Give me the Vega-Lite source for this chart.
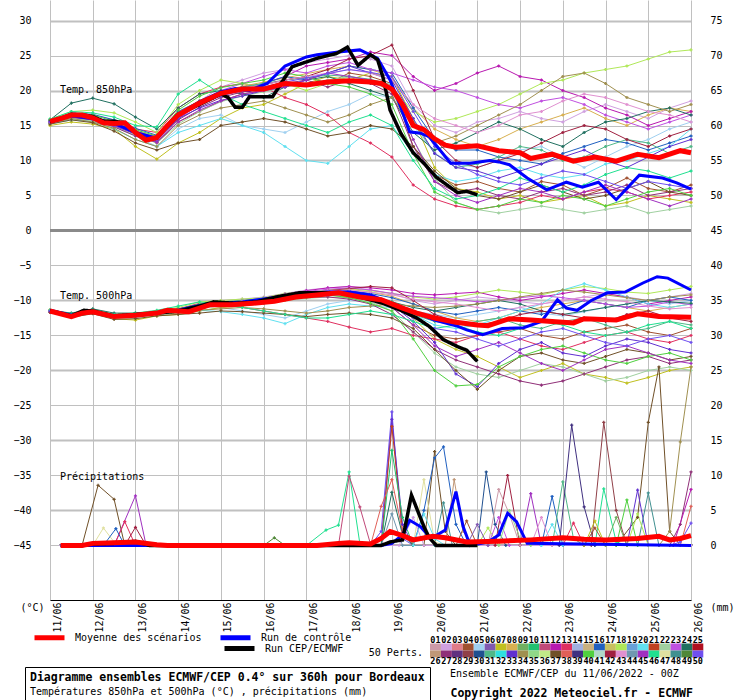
{
"$schema": "https://vega.github.io/schema/vega-lite/v6.json",
"width": 641, "height": 600,
"autosize": {"type": "none"},
"padding": {"left": 50, "top": 0, "right": 49, "bottom": 100},
"background": "white",
"config": {
 "view": {"stroke": null},
 "font": "DejaVu Sans Mono",
 "axis": {"labelFont": "DejaVu Sans Mono", "labelFontSize": 10, "labelColor": "black", "titleFont": "DejaVu Sans Mono", "titleFontSize": 10, "titleFontWeight": "normal", "titleColor": "black", "labelOverlap": false},
 "legend": {"labelFont": "DejaVu Sans Mono", "titleFont": "DejaVu Sans Mono", "labelColor": "black", "titleColor": "black", "padding": 0, "labelFontSize": 10}
},
"datasets": {
"lg": [{"t":"01","u":"26"},{"t":"02","u":"27"},{"t":"03","u":"28"},{"t":"04","u":"29"},{"t":"05","u":"30"},{"t":"06","u":"31"},{"t":"07","u":"32"},{"t":"08","u":"33"},{"t":"09","u":"34"},{"t":"10","u":"35"},{"t":"11","u":"36"},{"t":"12","u":"37"},{"t":"13","u":"38"},{"t":"14","u":"39"},{"t":"15","u":"40"},{"t":"16","u":"41"},{"t":"17","u":"42"},{"t":"18","u":"43"},{"t":"19","u":"44"},{"t":"20","u":"45"},{"t":"21","u":"46"},{"t":"22","u":"47"},{"t":"23","u":"48"},{"t":"24","u":"49"},{"t":"25","u":"50"}],
"ens": [
{"m":"02","h":0,"a":15.8,"b":-11.4},{"m":"02","h":12,"a":16.8,"b":-12},{"m":"02","h":24,"a":16.5,"b":-11.5},{"m":"02","h":36,"a":15.8,"b":-12},{"m":"02","h":48,"a":14.5,"b":-11.9},{"m":"02","h":60,"a":13,"b":-11.6},{"m":"02","h":72,"a":16,"b":-11.2},{"m":"02","h":84,"a":18.5,"b":-10.5},{"m":"02","h":96,"a":20.5,"b":-10},{"m":"02","h":108,"a":21.5,"b":-9.8},{"m":"02","h":120,"a":22.5,"b":-9.5},{"m":"02","h":132,"a":23,"b":-9},{"m":"02","h":144,"a":24,"b":-8.5},{"m":"02","h":156,"a":24.5,"b":-8.2},{"m":"02","h":168,"a":25,"b":-8},{"m":"02","h":180,"a":24.5,"b":-8.5},{"m":"02","h":192,"a":23.5,"b":-9},{"m":"02","h":204,"a":18,"b":-10},{"m":"02","h":216,"a":15,"b":-10.5},{"m":"02","h":228,"a":14,"b":-10},{"m":"02","h":240,"a":15.5,"b":-9.5},{"m":"02","h":252,"a":16,"b":-9.8},{"m":"02","h":264,"a":17,"b":-10.2},{"m":"02","h":276,"a":16,"b":-10.5},{"m":"02","h":288,"a":15.5,"b":-10},{"m":"02","h":300,"a":17,"b":-9.5},{"m":"02","h":312,"a":18,"b":-9},{"m":"02","h":324,"a":17,"b":-9.5},{"m":"02","h":336,"a":16,"b":-10},{"m":"02","h":348,"a":17.5,"b":-9.5},{"m":"02","h":360,"a":18.5,"b":-9},
{"m":"04","h":0,"a":15.5,"b":-11.6},{"m":"04","h":12,"a":16.2,"b":-12.3},{"m":"04","h":24,"a":16,"b":-11.7},{"m":"04","h":36,"a":15,"b":-12.4},{"m":"04","h":48,"a":13.8,"b":-12.2},{"m":"04","h":60,"a":12.5,"b":-11.8},{"m":"04","h":72,"a":15.5,"b":-11.4},{"m":"04","h":84,"a":17,"b":-10.8},{"m":"04","h":96,"a":18.5,"b":-10.5},{"m":"04","h":108,"a":19.5,"b":-10.4},{"m":"04","h":120,"a":20,"b":-10},{"m":"04","h":132,"a":21.5,"b":-9.5},{"m":"04","h":144,"a":22,"b":-9.2},{"m":"04","h":156,"a":21,"b":-9},{"m":"04","h":168,"a":22.5,"b":-9.2},{"m":"04","h":180,"a":22,"b":-9.8},{"m":"04","h":192,"a":21,"b":-11},{"m":"04","h":204,"a":12,"b":-13.5},{"m":"04","h":216,"a":8,"b":-15},{"m":"04","h":228,"a":6.5,"b":-15.5},{"m":"04","h":240,"a":7,"b":-15},{"m":"04","h":252,"a":6,"b":-14.5},{"m":"04","h":264,"a":5.5,"b":-14},{"m":"04","h":276,"a":7,"b":-15},{"m":"04","h":288,"a":6.5,"b":-15.5},{"m":"04","h":300,"a":5,"b":-14.5},{"m":"04","h":312,"a":6,"b":-14},{"m":"04","h":324,"a":7.5,"b":-13.5},{"m":"04","h":336,"a":6,"b":-14.5},{"m":"04","h":348,"a":5.5,"b":-15},{"m":"04","h":360,"a":6.5,"b":-14},
{"m":"05","h":0,"a":15.2,"b":-11.4},{"m":"05","h":12,"a":15.8,"b":-12.1},{"m":"05","h":24,"a":15.5,"b":-11.6},{"m":"05","h":36,"a":14.8,"b":-12.2},{"m":"05","h":48,"a":13.5,"b":-12},{"m":"05","h":60,"a":12,"b":-11.7},{"m":"05","h":72,"a":14.5,"b":-11.8},{"m":"05","h":84,"a":16,"b":-11.5},{"m":"05","h":96,"a":16.5,"b":-11},{"m":"05","h":108,"a":15,"b":-11.5},{"m":"05","h":120,"a":14.5,"b":-12},{"m":"05","h":132,"a":14,"b":-12.5},{"m":"05","h":144,"a":15.5,"b":-11.5},{"m":"05","h":156,"a":17,"b":-10.5},{"m":"05","h":168,"a":18,"b":-10},{"m":"05","h":180,"a":19.5,"b":-10.2},{"m":"05","h":192,"a":19,"b":-10.5},{"m":"05","h":204,"a":15,"b":-11.5},{"m":"05","h":216,"a":11,"b":-12},{"m":"05","h":228,"a":9.5,"b":-12.5},{"m":"05","h":240,"a":9,"b":-12},{"m":"05","h":252,"a":10,"b":-11.5},{"m":"05","h":264,"a":11.5,"b":-11},{"m":"05","h":276,"a":12,"b":-11.8},{"m":"05","h":288,"a":10.5,"b":-12.2},{"m":"05","h":300,"a":9,"b":-11.6},{"m":"05","h":312,"a":10.5,"b":-11},{"m":"05","h":324,"a":12,"b":-10.5},{"m":"05","h":336,"a":13,"b":-10},{"m":"05","h":348,"a":14.5,"b":-10.5},{"m":"05","h":360,"a":15.5,"b":-10},
{"m":"07","h":0,"a":15,"b":-11.5},{"m":"07","h":12,"a":15.5,"b":-12.2},{"m":"07","h":24,"a":15.2,"b":-11.7},{"m":"07","h":36,"a":14.5,"b":-12.6},{"m":"07","h":48,"a":12,"b":-12.8},{"m":"07","h":60,"a":10.2,"b":-12.2},{"m":"07","h":72,"a":12.5,"b":-12},{"m":"07","h":84,"a":14,"b":-11.5},{"m":"07","h":96,"a":16,"b":-11},{"m":"07","h":108,"a":17.5,"b":-10.8},{"m":"07","h":120,"a":18,"b":-10.4},{"m":"07","h":132,"a":19.5,"b":-10},{"m":"07","h":144,"a":21,"b":-9.5},{"m":"07","h":156,"a":22,"b":-9.2},{"m":"07","h":168,"a":21.5,"b":-9.5},{"m":"07","h":180,"a":22.5,"b":-10},{"m":"07","h":192,"a":22,"b":-10.5},{"m":"07","h":204,"a":16,"b":-12.5},{"m":"07","h":216,"a":9,"b":-15.5},{"m":"07","h":228,"a":6,"b":-17},{"m":"07","h":240,"a":5.5,"b":-18},{"m":"07","h":252,"a":4.5,"b":-19.5},{"m":"07","h":264,"a":5,"b":-21},{"m":"07","h":276,"a":4,"b":-20},{"m":"07","h":288,"a":4.5,"b":-19},{"m":"07","h":300,"a":5,"b":-20.5},{"m":"07","h":312,"a":3.5,"b":-21},{"m":"07","h":324,"a":4,"b":-21.8},{"m":"07","h":336,"a":5,"b":-21},{"m":"07","h":348,"a":4.5,"b":-20},{"m":"07","h":360,"a":4,"b":-19.5},
{"m":"08","h":0,"a":15.6,"b":-11.5},{"m":"08","h":12,"a":16.6,"b":-12.2},{"m":"08","h":24,"a":16.2,"b":-11.6},{"m":"08","h":36,"a":15.4,"b":-12.2},{"m":"08","h":48,"a":14.2,"b":-12},{"m":"08","h":60,"a":13.4,"b":-11.7},{"m":"08","h":72,"a":16.8,"b":-11.3},{"m":"08","h":84,"a":18.6,"b":-10.6},{"m":"08","h":96,"a":19.8,"b":-10.3},{"m":"08","h":108,"a":20.6,"b":-10.1},{"m":"08","h":120,"a":21.2,"b":-9.8},{"m":"08","h":132,"a":21.8,"b":-9.3},{"m":"08","h":144,"a":22.4,"b":-8.9},{"m":"08","h":156,"a":23,"b":-8.6},{"m":"08","h":168,"a":23.5,"b":-8.4},{"m":"08","h":180,"a":23,"b":-8.8},{"m":"08","h":192,"a":22,"b":-9.4},{"m":"08","h":204,"a":17.5,"b":-10.5},{"m":"08","h":216,"a":14.5,"b":-11.5},{"m":"08","h":228,"a":13,"b":-12.5},{"m":"08","h":240,"a":12,"b":-13},{"m":"08","h":252,"a":13,"b":-12.5},{"m":"08","h":264,"a":14.5,"b":-11.5},{"m":"08","h":276,"a":15.5,"b":-11},{"m":"08","h":288,"a":16.5,"b":-10.5},{"m":"08","h":300,"a":17.5,"b":-10},{"m":"08","h":312,"a":16,"b":-10.5},{"m":"08","h":324,"a":15,"b":-11},{"m":"08","h":336,"a":16.5,"b":-11.5},{"m":"08","h":348,"a":17.5,"b":-11},{"m":"08","h":360,"a":17,"b":-10.5},
{"m":"12","h":0,"a":15.6,"b":-11.5},{"m":"12","h":12,"a":16.5,"b":-12.2},{"m":"12","h":24,"a":16.3,"b":-11.6},{"m":"12","h":36,"a":15.4,"b":-12.3},{"m":"12","h":48,"a":14.2,"b":-12.1},{"m":"12","h":60,"a":13.2,"b":-11.8},{"m":"12","h":72,"a":16,"b":-11.5},{"m":"12","h":84,"a":18,"b":-10.8},{"m":"12","h":96,"a":19.5,"b":-10.5},{"m":"12","h":108,"a":20,"b":-10.2},{"m":"12","h":120,"a":21,"b":-9.8},{"m":"12","h":132,"a":22,"b":-9.2},{"m":"12","h":144,"a":23.5,"b":-8.6},{"m":"12","h":156,"a":24,"b":-8.2},{"m":"12","h":168,"a":24.5,"b":-8},{"m":"12","h":180,"a":25.5,"b":-8.2},{"m":"12","h":192,"a":25,"b":-8.5},{"m":"12","h":204,"a":22,"b":-9},{"m":"12","h":216,"a":20,"b":-9.2},{"m":"12","h":228,"a":21,"b":-9},{"m":"12","h":240,"a":22.5,"b":-8.8},{"m":"12","h":252,"a":23.5,"b":-9.5},{"m":"12","h":264,"a":22,"b":-10},{"m":"12","h":276,"a":21.5,"b":-9.5},{"m":"12","h":288,"a":20,"b":-9},{"m":"12","h":300,"a":19,"b":-8.5},{"m":"12","h":312,"a":17.5,"b":-9},{"m":"12","h":324,"a":16.5,"b":-9.5},{"m":"12","h":336,"a":15,"b":-10.5},{"m":"12","h":348,"a":16,"b":-10},{"m":"12","h":360,"a":17,"b":-9.5},
{"m":"13","h":0,"a":15.4,"b":-11.4},{"m":"13","h":12,"a":16,"b":-12.1},{"m":"13","h":24,"a":15.8,"b":-11.5},{"m":"13","h":36,"a":15.2,"b":-12.1},{"m":"13","h":48,"a":14.5,"b":-12},{"m":"13","h":60,"a":14,"b":-11.6},{"m":"13","h":72,"a":17.5,"b":-11.2},{"m":"13","h":84,"a":19.5,"b":-10.4},{"m":"13","h":96,"a":20.5,"b":-10.5},{"m":"13","h":108,"a":21,"b":-11},{"m":"13","h":120,"a":20.5,"b":-11.5},{"m":"13","h":132,"a":19,"b":-12},{"m":"13","h":144,"a":18,"b":-12.5},{"m":"13","h":156,"a":16.5,"b":-13},{"m":"13","h":168,"a":14,"b":-13.8},{"m":"13","h":180,"a":12.5,"b":-14.5},{"m":"13","h":192,"a":10.5,"b":-14},{"m":"13","h":204,"a":6.5,"b":-15},{"m":"13","h":216,"a":4.5,"b":-15.5},{"m":"13","h":228,"a":3.5,"b":-16},{"m":"13","h":240,"a":3,"b":-15},{"m":"13","h":252,"a":3.5,"b":-14.5},{"m":"13","h":264,"a":4,"b":-15.5},{"m":"13","h":276,"a":5,"b":-16.5},{"m":"13","h":288,"a":4.5,"b":-17},{"m":"13","h":300,"a":5.5,"b":-16},{"m":"13","h":312,"a":6,"b":-15},{"m":"13","h":324,"a":5.5,"b":-14.5},{"m":"13","h":336,"a":4.5,"b":-15.5},{"m":"13","h":348,"a":5,"b":-16},{"m":"13","h":360,"a":5.5,"b":-15},
{"m":"16","h":0,"a":15.7,"b":-11.6},{"m":"16","h":12,"a":16.8,"b":-12.2},{"m":"16","h":24,"a":16.6,"b":-11.7},{"m":"16","h":36,"a":15.8,"b":-12.3},{"m":"16","h":48,"a":14.6,"b":-12.1},{"m":"16","h":60,"a":13.6,"b":-11.8},{"m":"16","h":72,"a":17,"b":-11.5},{"m":"16","h":84,"a":18.5,"b":-10.9},{"m":"16","h":96,"a":19.5,"b":-10.5},{"m":"16","h":108,"a":20.5,"b":-10.3},{"m":"16","h":120,"a":21,"b":-10},{"m":"16","h":132,"a":22,"b":-9.5},{"m":"16","h":144,"a":21.5,"b":-9},{"m":"16","h":156,"a":22.5,"b":-8.8},{"m":"16","h":168,"a":23.5,"b":-8.6},{"m":"16","h":180,"a":23,"b":-9},{"m":"16","h":192,"a":22.5,"b":-9.6},{"m":"16","h":204,"a":17.5,"b":-10.5},{"m":"16","h":216,"a":13,"b":-11.5},{"m":"16","h":228,"a":11.5,"b":-12},{"m":"16","h":240,"a":11.5,"b":-11.5},{"m":"16","h":252,"a":10.5,"b":-11},{"m":"16","h":264,"a":10,"b":-11.5},{"m":"16","h":276,"a":9.5,"b":-12},{"m":"16","h":288,"a":11,"b":-11},{"m":"16","h":300,"a":12,"b":-10},{"m":"16","h":312,"a":13,"b":-10.5},{"m":"16","h":324,"a":12.5,"b":-11},{"m":"16","h":336,"a":11.5,"b":-10},{"m":"16","h":348,"a":12.5,"b":-9.5},{"m":"16","h":360,"a":13.5,"b":-10},
{"m":"18","h":0,"a":15.9,"b":-11.3},{"m":"18","h":12,"a":17,"b":-11.9},{"m":"18","h":24,"a":17.2,"b":-11.3},{"m":"18","h":36,"a":16.8,"b":-12},{"m":"18","h":48,"a":15.5,"b":-11.8},{"m":"18","h":60,"a":14,"b":-11.5},{"m":"18","h":72,"a":18,"b":-11},{"m":"18","h":84,"a":20,"b":-10.2},{"m":"18","h":96,"a":21.5,"b":-10},{"m":"18","h":108,"a":21,"b":-9.8},{"m":"18","h":120,"a":20.5,"b":-9.6},{"m":"18","h":132,"a":21,"b":-9},{"m":"18","h":144,"a":20,"b":-8.8},{"m":"18","h":156,"a":21,"b":-8.5},{"m":"18","h":168,"a":22,"b":-8.3},{"m":"18","h":180,"a":21.5,"b":-8.6},{"m":"18","h":192,"a":20.5,"b":-9},{"m":"18","h":204,"a":17,"b":-9.5},{"m":"18","h":216,"a":15.5,"b":-9.8},{"m":"18","h":228,"a":16,"b":-9.5},{"m":"18","h":240,"a":17,"b":-9},{"m":"18","h":252,"a":18,"b":-8.5},{"m":"18","h":264,"a":19.5,"b":-8.8},{"m":"18","h":276,"a":21,"b":-9.2},{"m":"18","h":288,"a":21.5,"b":-8.5},{"m":"18","h":300,"a":22.5,"b":-8},{"m":"18","h":312,"a":23,"b":-8.3},{"m":"18","h":324,"a":23.5,"b":-8.8},{"m":"18","h":336,"a":24.5,"b":-9},{"m":"18","h":348,"a":25.5,"b":-8.5},{"m":"18","h":360,"a":25.8,"b":-8},
{"m":"20","h":0,"a":15.3,"b":-11.6},{"m":"20","h":12,"a":15.8,"b":-12.3},{"m":"20","h":24,"a":15.6,"b":-11.8},{"m":"20","h":36,"a":14.5,"b":-12.5},{"m":"20","h":48,"a":13,"b":-12.4},{"m":"20","h":60,"a":12,"b":-12},{"m":"20","h":72,"a":14,"b":-11.8},{"m":"20","h":84,"a":15,"b":-11.4},{"m":"20","h":96,"a":16,"b":-11.6},{"m":"20","h":108,"a":15,"b":-12},{"m":"20","h":120,"a":14,"b":-12.5},{"m":"20","h":132,"a":12,"b":-13.3},{"m":"20","h":144,"a":10,"b":-12},{"m":"20","h":156,"a":9.6,"b":-11},{"m":"20","h":168,"a":12,"b":-10.5},{"m":"20","h":180,"a":14.5,"b":-10.8},{"m":"20","h":192,"a":15,"b":-11},{"m":"20","h":204,"a":11,"b":-12},{"m":"20","h":216,"a":8,"b":-13.5},{"m":"20","h":228,"a":7,"b":-14},{"m":"20","h":240,"a":7.5,"b":-13.5},{"m":"20","h":252,"a":8.5,"b":-12.5},{"m":"20","h":264,"a":9,"b":-11.5},{"m":"20","h":276,"a":8,"b":-10.5},{"m":"20","h":288,"a":7.5,"b":-8.5},{"m":"20","h":300,"a":8,"b":-7.6},{"m":"20","h":312,"a":9.5,"b":-8.5},{"m":"20","h":324,"a":10,"b":-9.5},{"m":"20","h":336,"a":11,"b":-10.5},{"m":"20","h":348,"a":12,"b":-11},{"m":"20","h":360,"a":14.5,"b":-10.5},
{"m":"22","h":0,"a":15.4,"b":-11.6},{"m":"22","h":12,"a":16,"b":-12.3},{"m":"22","h":24,"a":15.7,"b":-11.8},{"m":"22","h":36,"a":14.9,"b":-12.4},{"m":"22","h":48,"a":13.6,"b":-12.3},{"m":"22","h":60,"a":12.5,"b":-12},{"m":"22","h":72,"a":15.2,"b":-11.7},{"m":"22","h":84,"a":17,"b":-11.1},{"m":"22","h":96,"a":18.4,"b":-10.8},{"m":"22","h":108,"a":19.2,"b":-10.6},{"m":"22","h":120,"a":19.8,"b":-10.4},{"m":"22","h":132,"a":20.5,"b":-10},{"m":"22","h":144,"a":21,"b":-9.7},{"m":"22","h":156,"a":21.5,"b":-9.5},{"m":"22","h":168,"a":22,"b":-9.6},{"m":"22","h":180,"a":21.2,"b":-10.2},{"m":"22","h":192,"a":20,"b":-11.5},{"m":"22","h":204,"a":13,"b":-14.5},{"m":"22","h":216,"a":7.5,"b":-17.5},{"m":"22","h":228,"a":4,"b":-19.5},{"m":"22","h":240,"a":3,"b":-20.5},{"m":"22","h":252,"a":2.5,"b":-21},{"m":"22","h":264,"a":3,"b":-20},{"m":"22","h":276,"a":3.5,"b":-19},{"m":"22","h":288,"a":3,"b":-19.5},{"m":"22","h":300,"a":2.5,"b":-20.5},{"m":"22","h":312,"a":3,"b":-21.5},{"m":"22","h":324,"a":3.5,"b":-21},{"m":"22","h":336,"a":2.5,"b":-20},{"m":"22","h":348,"a":3,"b":-19.5},{"m":"22","h":360,"a":3.5,"b":-20},
{"m":"23","h":0,"a":15.6,"b":-11.5},{"m":"23","h":12,"a":16.3,"b":-12.1},{"m":"23","h":24,"a":16,"b":-11.5},{"m":"23","h":36,"a":15.2,"b":-12.2},{"m":"23","h":48,"a":14,"b":-12},{"m":"23","h":60,"a":13,"b":-11.7},{"m":"23","h":72,"a":16.4,"b":-11.4},{"m":"23","h":84,"a":18.4,"b":-10.7},{"m":"23","h":96,"a":20,"b":-10.3},{"m":"23","h":108,"a":21,"b":-10},{"m":"23","h":120,"a":22,"b":-9.7},{"m":"23","h":132,"a":23,"b":-9.1},{"m":"23","h":144,"a":22.5,"b":-8.7},{"m":"23","h":156,"a":23.5,"b":-8.4},{"m":"23","h":168,"a":24,"b":-8.2},{"m":"23","h":180,"a":23,"b":-8.5},{"m":"23","h":192,"a":22.5,"b":-9},{"m":"23","h":204,"a":21.5,"b":-9.4},{"m":"23","h":216,"a":20.5,"b":-9.6},{"m":"23","h":228,"a":20,"b":-9.8},{"m":"23","h":240,"a":19,"b":-10.2},{"m":"23","h":252,"a":18,"b":-10},{"m":"23","h":264,"a":17.5,"b":-9.6},{"m":"23","h":276,"a":18.5,"b":-9.3},{"m":"23","h":288,"a":19,"b":-9.6},{"m":"23","h":300,"a":18,"b":-10},{"m":"23","h":312,"a":16.5,"b":-10.5},{"m":"23","h":324,"a":15.5,"b":-11},{"m":"23","h":336,"a":14.5,"b":-10.8},{"m":"23","h":348,"a":15.5,"b":-10.2},{"m":"23","h":360,"a":16.5,"b":-10.6},
{"m":"24","h":0,"a":15.8,"b":-11.4},{"m":"24","h":12,"a":18.2,"b":-11.8},{"m":"24","h":24,"a":18.9,"b":-11.2},{"m":"24","h":36,"a":18.1,"b":-11.8},{"m":"24","h":48,"a":16.2,"b":-11.8},{"m":"24","h":60,"a":14.5,"b":-11.6},{"m":"24","h":72,"a":17.5,"b":-11.2},{"m":"24","h":84,"a":19.5,"b":-10.6},{"m":"24","h":96,"a":20,"b":-10.4},{"m":"24","h":108,"a":19.5,"b":-10.2},{"m":"24","h":120,"a":19,"b":-10},{"m":"24","h":132,"a":20.5,"b":-9.6},{"m":"24","h":144,"a":21.5,"b":-9.2},{"m":"24","h":156,"a":22,"b":-9},{"m":"24","h":168,"a":21,"b":-9},{"m":"24","h":180,"a":20,"b":-9.6},{"m":"24","h":192,"a":19,"b":-10.2},{"m":"24","h":204,"a":14,"b":-11},{"m":"24","h":216,"a":11.5,"b":-11.5},{"m":"24","h":228,"a":12.5,"b":-11},{"m":"24","h":240,"a":14,"b":-10.5},{"m":"24","h":252,"a":15.5,"b":-10},{"m":"24","h":264,"a":14.5,"b":-10.5},{"m":"24","h":276,"a":13,"b":-11.5},{"m":"24","h":288,"a":12,"b":-12},{"m":"24","h":300,"a":14,"b":-11.5},{"m":"24","h":312,"a":15.5,"b":-11},{"m":"24","h":324,"a":16,"b":-10.5},{"m":"24","h":336,"a":17,"b":-10},{"m":"24","h":348,"a":17.5,"b":-10.2},{"m":"24","h":360,"a":16.5,"b":-10.4},
{"m":"27","h":0,"a":15.5,"b":-11.6},{"m":"27","h":12,"a":16.2,"b":-12.3},{"m":"27","h":24,"a":15.9,"b":-11.7},{"m":"27","h":36,"a":14.8,"b":-12.4},{"m":"27","h":48,"a":13.5,"b":-12.2},{"m":"27","h":60,"a":12.6,"b":-11.9},{"m":"27","h":72,"a":15.8,"b":-11.6},{"m":"27","h":84,"a":17.6,"b":-11},{"m":"27","h":96,"a":19,"b":-10.7},{"m":"27","h":108,"a":19.8,"b":-10.5},{"m":"27","h":120,"a":20.2,"b":-10.3},{"m":"27","h":132,"a":21,"b":-9.8},{"m":"27","h":144,"a":21.5,"b":-9.5},{"m":"27","h":156,"a":20.5,"b":-9.5},{"m":"27","h":168,"a":21.5,"b":-9.8},{"m":"27","h":180,"a":21,"b":-10.5},{"m":"27","h":192,"a":19.5,"b":-12},{"m":"27","h":204,"a":12,"b":-14.5},{"m":"27","h":216,"a":7,"b":-17},{"m":"27","h":228,"a":5.5,"b":-18.5},{"m":"27","h":240,"a":6,"b":-19.5},{"m":"27","h":252,"a":5,"b":-20.5},{"m":"27","h":264,"a":4.5,"b":-21.5},{"m":"27","h":276,"a":5.5,"b":-22.1},{"m":"27","h":288,"a":6,"b":-21.5},{"m":"27","h":300,"a":5,"b":-20.5},{"m":"27","h":312,"a":5.5,"b":-19.5},{"m":"27","h":324,"a":6.5,"b":-18.5},{"m":"27","h":336,"a":5,"b":-18},{"m":"27","h":348,"a":5.5,"b":-19},{"m":"27","h":360,"a":6,"b":-18.5},
{"m":"31","h":0,"a":15.6,"b":-11.5},{"m":"31","h":12,"a":16.4,"b":-12.2},{"m":"31","h":24,"a":16.1,"b":-11.7},{"m":"31","h":36,"a":15.3,"b":-12.3},{"m":"31","h":48,"a":14.1,"b":-12.1},{"m":"31","h":60,"a":13.2,"b":-11.8},{"m":"31","h":72,"a":16.5,"b":-11.5},{"m":"31","h":84,"a":18.2,"b":-10.8},{"m":"31","h":96,"a":19.6,"b":-10.5},{"m":"31","h":108,"a":20.4,"b":-10.2},{"m":"31","h":120,"a":21,"b":-10},{"m":"31","h":132,"a":21.5,"b":-9.5},{"m":"31","h":144,"a":21.8,"b":-9.1},{"m":"31","h":156,"a":22.2,"b":-8.9},{"m":"31","h":168,"a":22,"b":-8.8},{"m":"31","h":180,"a":21.6,"b":-9.3},{"m":"31","h":192,"a":20.8,"b":-10.2},{"m":"31","h":204,"a":15.5,"b":-12},{"m":"31","h":216,"a":11,"b":-13},{"m":"31","h":228,"a":9,"b":-13.5},{"m":"31","h":240,"a":9.5,"b":-13},{"m":"31","h":252,"a":10.5,"b":-12.5},{"m":"31","h":264,"a":12,"b":-13.5},{"m":"31","h":276,"a":11.5,"b":-14},{"m":"31","h":288,"a":10,"b":-13},{"m":"31","h":300,"a":10.5,"b":-12.5},{"m":"31","h":312,"a":12,"b":-13.5},{"m":"31","h":324,"a":13,"b":-14.5},{"m":"31","h":336,"a":12.5,"b":-14},{"m":"31","h":348,"a":11,"b":-13},{"m":"31","h":360,"a":12,"b":-13.5},
{"m":"33","h":0,"a":15.4,"b":-11.5},{"m":"33","h":12,"a":16.2,"b":-12.3},{"m":"33","h":24,"a":15.8,"b":-11.7},{"m":"33","h":36,"a":15,"b":-12.4},{"m":"33","h":48,"a":13.8,"b":-12.2},{"m":"33","h":60,"a":12.8,"b":-11.9},{"m":"33","h":72,"a":16,"b":-11.5},{"m":"33","h":84,"a":17.5,"b":-10.9},{"m":"33","h":96,"a":18.6,"b":-10.6},{"m":"33","h":108,"a":19.2,"b":-10.4},{"m":"33","h":120,"a":20,"b":-10.1},{"m":"33","h":132,"a":20.5,"b":-9.6},{"m":"33","h":144,"a":21.5,"b":-9.2},{"m":"33","h":156,"a":22.5,"b":-9},{"m":"33","h":168,"a":23.5,"b":-9},{"m":"33","h":180,"a":22.5,"b":-9.6},{"m":"33","h":192,"a":21.5,"b":-10.6},{"m":"33","h":204,"a":16,"b":-13},{"m":"33","h":216,"a":11,"b":-16},{"m":"33","h":228,"a":9,"b":-20.5},{"m":"33","h":240,"a":8.5,"b":-22.3},{"m":"33","h":252,"a":7.5,"b":-19},{"m":"33","h":264,"a":8.5,"b":-17},{"m":"33","h":276,"a":9.5,"b":-16},{"m":"33","h":288,"a":10.5,"b":-17.5},{"m":"33","h":300,"a":11.5,"b":-18},{"m":"33","h":312,"a":10,"b":-16.5},{"m":"33","h":324,"a":9,"b":-15.5},{"m":"33","h":336,"a":10.5,"b":-16},{"m":"33","h":348,"a":12,"b":-17},{"m":"33","h":360,"a":13,"b":-17.5},
{"m":"34","h":0,"a":15.3,"b":-11.6},{"m":"34","h":12,"a":16,"b":-12.2},{"m":"34","h":24,"a":15.5,"b":-11.8},{"m":"34","h":36,"a":14.6,"b":-12.4},{"m":"34","h":48,"a":13,"b":-12.2},{"m":"34","h":60,"a":12,"b":-12},{"m":"34","h":72,"a":15,"b":-11.8},{"m":"34","h":84,"a":16.5,"b":-11.4},{"m":"34","h":96,"a":17.5,"b":-11.2},{"m":"34","h":108,"a":18,"b":-11},{"m":"34","h":120,"a":18.5,"b":-11.2},{"m":"34","h":132,"a":17.5,"b":-11.5},{"m":"34","h":144,"a":16.5,"b":-11.8},{"m":"34","h":156,"a":15.5,"b":-11.5},{"m":"34","h":168,"a":16.5,"b":-11},{"m":"34","h":180,"a":18,"b":-10.8},{"m":"34","h":192,"a":19,"b":-10.5},{"m":"34","h":204,"a":15,"b":-10.8},{"m":"34","h":216,"a":12.5,"b":-11},{"m":"34","h":228,"a":13.5,"b":-10.8},{"m":"34","h":240,"a":15,"b":-10.5},{"m":"34","h":252,"a":16.5,"b":-10},{"m":"34","h":264,"a":18,"b":-9.5},{"m":"34","h":276,"a":20,"b":-9},{"m":"34","h":288,"a":22,"b":-8.5},{"m":"34","h":300,"a":22.5,"b":-8.8},{"m":"34","h":312,"a":21,"b":-9.2},{"m":"34","h":324,"a":19,"b":-9.6},{"m":"34","h":336,"a":18,"b":-10},{"m":"34","h":348,"a":17,"b":-9.5},{"m":"34","h":360,"a":18,"b":-9.2},
{"m":"37","h":0,"a":15.2,"b":-11.7},{"m":"37","h":12,"a":15.8,"b":-12.4},{"m":"37","h":24,"a":15.4,"b":-11.9},{"m":"37","h":36,"a":14.2,"b":-12.7},{"m":"37","h":48,"a":12.5,"b":-12.6},{"m":"37","h":60,"a":11.5,"b":-12.2},{"m":"37","h":72,"a":12.5,"b":-12},{"m":"37","h":84,"a":13,"b":-11.8},{"m":"37","h":96,"a":15,"b":-11.5},{"m":"37","h":108,"a":15.5,"b":-11.6},{"m":"37","h":120,"a":16,"b":-11.8},{"m":"37","h":132,"a":15.5,"b":-12},{"m":"37","h":144,"a":14.5,"b":-12.3},{"m":"37","h":156,"a":13.5,"b":-12},{"m":"37","h":168,"a":14,"b":-11.8},{"m":"37","h":180,"a":15,"b":-12},{"m":"37","h":192,"a":14.5,"b":-12.5},{"m":"37","h":204,"a":12,"b":-14},{"m":"37","h":216,"a":8.5,"b":-17},{"m":"37","h":228,"a":6,"b":-20},{"m":"37","h":240,"a":5,"b":-22.7},{"m":"37","h":252,"a":4.5,"b":-20},{"m":"37","h":264,"a":5.5,"b":-18},{"m":"37","h":276,"a":6.5,"b":-17.5},{"m":"37","h":288,"a":5.5,"b":-18.5},{"m":"37","h":300,"a":4.5,"b":-19},{"m":"37","h":312,"a":5,"b":-18},{"m":"37","h":324,"a":6,"b":-17},{"m":"37","h":336,"a":7,"b":-17.5},{"m":"37","h":348,"a":5.5,"b":-18.5},{"m":"37","h":360,"a":5,"b":-18},
{"m":"40","h":0,"a":15.7,"b":-11.5},{"m":"40","h":12,"a":16.7,"b":-12.1},{"m":"40","h":24,"a":16.5,"b":-11.6},{"m":"40","h":36,"a":15.6,"b":-12.2},{"m":"40","h":48,"a":14.4,"b":-12},{"m":"40","h":60,"a":13.5,"b":-11.6},{"m":"40","h":72,"a":17.2,"b":-11.3},{"m":"40","h":84,"a":19.2,"b":-10.5},{"m":"40","h":96,"a":20.4,"b":-10.2},{"m":"40","h":108,"a":21,"b":-10},{"m":"40","h":120,"a":21.5,"b":-9.7},{"m":"40","h":132,"a":22.5,"b":-9.3},{"m":"40","h":144,"a":22,"b":-9},{"m":"40","h":156,"a":21,"b":-9.2},{"m":"40","h":168,"a":20.5,"b":-9.6},{"m":"40","h":180,"a":19.5,"b":-10.4},{"m":"40","h":192,"a":18,"b":-11.5},{"m":"40","h":204,"a":11,"b":-15.5},{"m":"40","h":216,"a":5.5,"b":-20},{"m":"40","h":228,"a":4,"b":-22.2},{"m":"40","h":240,"a":3,"b":-22},{"m":"40","h":252,"a":3.5,"b":-19.5},{"m":"40","h":264,"a":4.5,"b":-18},{"m":"40","h":276,"a":4,"b":-17},{"m":"40","h":288,"a":5,"b":-16.5},{"m":"40","h":300,"a":4.5,"b":-17.5},{"m":"40","h":312,"a":3.5,"b":-18.5},{"m":"40","h":324,"a":4.5,"b":-19},{"m":"40","h":336,"a":5.5,"b":-18},{"m":"40","h":348,"a":6,"b":-17.5},{"m":"40","h":360,"a":5,"b":-18.5},
{"m":"42","h":0,"a":15.5,"b":-11.5},{"m":"42","h":12,"a":16.4,"b":-12.2},{"m":"42","h":24,"a":16.1,"b":-11.6},{"m":"42","h":36,"a":15.2,"b":-12.3},{"m":"42","h":48,"a":14,"b":-12.1},{"m":"42","h":60,"a":13,"b":-11.8},{"m":"42","h":72,"a":16.4,"b":-11.5},{"m":"42","h":84,"a":18,"b":-10.8},{"m":"42","h":96,"a":19.4,"b":-10.4},{"m":"42","h":108,"a":20.2,"b":-10.2},{"m":"42","h":120,"a":20.8,"b":-9.9},{"m":"42","h":132,"a":21.5,"b":-9.4},{"m":"42","h":144,"a":22,"b":-9},{"m":"42","h":156,"a":23,"b":-8.6},{"m":"42","h":168,"a":24.5,"b":-8.3},{"m":"42","h":180,"a":25,"b":-8},{"m":"42","h":192,"a":26.5,"b":-8.2},{"m":"42","h":204,"a":20,"b":-10},{"m":"42","h":216,"a":13,"b":-12},{"m":"42","h":228,"a":10,"b":-13},{"m":"42","h":240,"a":9,"b":-13.5},{"m":"42","h":252,"a":10,"b":-13},{"m":"42","h":264,"a":11,"b":-12},{"m":"42","h":276,"a":12.5,"b":-11.5},{"m":"42","h":288,"a":14,"b":-12},{"m":"42","h":300,"a":15,"b":-12.5},{"m":"42","h":312,"a":14.5,"b":-13},{"m":"42","h":324,"a":13,"b":-12},{"m":"42","h":336,"a":12,"b":-11.5},{"m":"42","h":348,"a":13.5,"b":-12.5},{"m":"42","h":360,"a":14.5,"b":-13},
{"m":"43","h":0,"a":15.5,"b":-11.5},{"m":"43","h":12,"a":16.3,"b":-12.1},{"m":"43","h":24,"a":16,"b":-11.6},{"m":"43","h":36,"a":15.2,"b":-12.2},{"m":"43","h":48,"a":14,"b":-12},{"m":"43","h":60,"a":13.1,"b":-11.7},{"m":"43","h":72,"a":16.3,"b":-11.4},{"m":"43","h":84,"a":18.2,"b":-10.7},{"m":"43","h":96,"a":19.5,"b":-10.3},{"m":"43","h":108,"a":20.3,"b":-10.1},{"m":"43","h":120,"a":20.8,"b":-9.8},{"m":"43","h":132,"a":21.5,"b":-9.3},{"m":"43","h":144,"a":22,"b":-8.9},{"m":"43","h":156,"a":22.5,"b":-8.6},{"m":"43","h":168,"a":23,"b":-8.5},{"m":"43","h":180,"a":22.5,"b":-8.8},{"m":"43","h":192,"a":21.5,"b":-9.2},{"m":"43","h":204,"a":18,"b":-9.8},{"m":"43","h":216,"a":16,"b":-10.2},{"m":"43","h":228,"a":15,"b":-10.5},{"m":"43","h":240,"a":14,"b":-11},{"m":"43","h":252,"a":15,"b":-11.5},{"m":"43","h":264,"a":16.5,"b":-11},{"m":"43","h":276,"a":17,"b":-10.5},{"m":"43","h":288,"a":18.5,"b":-10},{"m":"43","h":300,"a":19.5,"b":-9.5},{"m":"43","h":312,"a":19,"b":-9.8},{"m":"43","h":324,"a":18,"b":-10.2},{"m":"43","h":336,"a":17,"b":-10.8},{"m":"43","h":348,"a":16.5,"b":-11.2},{"m":"43","h":360,"a":15.5,"b":-11},
{"m":"45","h":0,"a":15.6,"b":-11.6},{"m":"45","h":12,"a":16.5,"b":-12.3},{"m":"45","h":24,"a":16,"b":-11.7},{"m":"45","h":36,"a":15,"b":-12.4},{"m":"45","h":48,"a":13.8,"b":-12.2},{"m":"45","h":60,"a":12.6,"b":-11.9},{"m":"45","h":72,"a":15.5,"b":-11.6},{"m":"45","h":84,"a":17.2,"b":-11},{"m":"45","h":96,"a":18.5,"b":-10.6},{"m":"45","h":108,"a":19.5,"b":-10.4},{"m":"45","h":120,"a":20,"b":-10.2},{"m":"45","h":132,"a":20.5,"b":-9.8},{"m":"45","h":144,"a":21.5,"b":-9.4},{"m":"45","h":156,"a":22.5,"b":-9.1},{"m":"45","h":168,"a":22,"b":-9.2},{"m":"45","h":180,"a":21.5,"b":-9.8},{"m":"45","h":192,"a":20.5,"b":-11},{"m":"45","h":204,"a":13,"b":-13.5},{"m":"45","h":216,"a":7,"b":-16.5},{"m":"45","h":228,"a":5,"b":-18},{"m":"45","h":240,"a":4,"b":-17},{"m":"45","h":252,"a":5,"b":-16},{"m":"45","h":264,"a":6,"b":-17.5},{"m":"45","h":276,"a":5.5,"b":-19},{"m":"45","h":288,"a":4.5,"b":-20},{"m":"45","h":300,"a":5.5,"b":-18.5},{"m":"45","h":312,"a":6.5,"b":-17},{"m":"45","h":324,"a":5.5,"b":-16.5},{"m":"45","h":336,"a":4.5,"b":-17.5},{"m":"45","h":348,"a":3.5,"b":-18.5},{"m":"45","h":360,"a":4.5,"b":-19},
{"m":"46","h":0,"a":15.9,"b":-11.4},{"m":"46","h":12,"a":17,"b":-11.9},{"m":"46","h":24,"a":16.8,"b":-11.4},{"m":"46","h":36,"a":16.2,"b":-12},{"m":"46","h":48,"a":15,"b":-11.8},{"m":"46","h":60,"a":14.8,"b":-11.4},{"m":"46","h":72,"a":19.5,"b":-10.8},{"m":"46","h":84,"a":21.5,"b":-10.2},{"m":"46","h":96,"a":19.5,"b":-10.6},{"m":"46","h":108,"a":18,"b":-11},{"m":"46","h":120,"a":17,"b":-11.5},{"m":"46","h":132,"a":16,"b":-12},{"m":"46","h":144,"a":15,"b":-12.5},{"m":"46","h":156,"a":14,"b":-12.5},{"m":"46","h":168,"a":15.5,"b":-12},{"m":"46","h":180,"a":16.5,"b":-11.5},{"m":"46","h":192,"a":15,"b":-12},{"m":"46","h":204,"a":10,"b":-13},{"m":"46","h":216,"a":6,"b":-14},{"m":"46","h":228,"a":4.5,"b":-13.5},{"m":"46","h":240,"a":5,"b":-14.5},{"m":"46","h":252,"a":6,"b":-15},{"m":"46","h":264,"a":7.5,"b":-14},{"m":"46","h":276,"a":6.5,"b":-13},{"m":"46","h":288,"a":5.5,"b":-13.5},{"m":"46","h":300,"a":6.5,"b":-14.5},{"m":"46","h":312,"a":8,"b":-15},{"m":"46","h":324,"a":9,"b":-14.5},{"m":"46","h":336,"a":8.5,"b":-13.5},{"m":"46","h":348,"a":7.5,"b":-13},{"m":"46","h":360,"a":8.5,"b":-14},
{"m":"50","h":0,"a":15.5,"b":-11.5},{"m":"50","h":12,"a":16.3,"b":-12.2},{"m":"50","h":24,"a":16,"b":-11.7},{"m":"50","h":36,"a":15.1,"b":-12.3},{"m":"50","h":48,"a":13.9,"b":-12.1},{"m":"50","h":60,"a":13,"b":-11.8},{"m":"50","h":72,"a":16.2,"b":-11.5},{"m":"50","h":84,"a":18,"b":-10.9},{"m":"50","h":96,"a":19.2,"b":-10.6},{"m":"50","h":108,"a":20,"b":-10.4},{"m":"50","h":120,"a":20.5,"b":-10.1},{"m":"50","h":132,"a":21.2,"b":-9.7},{"m":"50","h":144,"a":21.8,"b":-9.4},{"m":"50","h":156,"a":22.4,"b":-9.2},{"m":"50","h":168,"a":23,"b":-9.2},{"m":"50","h":180,"a":22.6,"b":-9.8},{"m":"50","h":192,"a":22,"b":-10.8},{"m":"50","h":204,"a":17,"b":-12.5},{"m":"50","h":216,"a":12,"b":-14},{"m":"50","h":228,"a":9.5,"b":-14.5},{"m":"50","h":240,"a":8,"b":-15.5},{"m":"50","h":252,"a":7,"b":-16.5},{"m":"50","h":264,"a":6.5,"b":-15.5},{"m":"50","h":276,"a":7.5,"b":-14.5},{"m":"50","h":288,"a":8.5,"b":-14},{"m":"50","h":300,"a":8,"b":-15},{"m":"50","h":312,"a":7,"b":-16},{"m":"50","h":324,"a":6,"b":-16.5},{"m":"50","h":336,"a":7,"b":-15.5},{"m":"50","h":348,"a":6.5,"b":-15},{"m":"50","h":360,"a":6,"b":-16}
],
"pr": [
{"m":"37","h":6,"p":0},{"m":"37","h":18,"p":0},{"m":"37","h":27,"p":8.6},{"m":"37","h":36,"p":6.6},{"m":"37","h":42,"p":0},{"m":"37","h":210,"p":0},{"m":"37","h":216,"p":13.4},{"m":"37","h":222,"p":2},{"m":"37","h":228,"p":0},{"m":"37","h":318,"p":0},{"m":"37","h":330,"p":4},{"m":"37","h":336,"p":17.6},{"m":"37","h":342,"p":25.5},{"m":"37","h":348,"p":2},{"m":"37","h":354,"p":0},{"m":"37","h":360,"p":0},
{"m":"45","h":6,"p":0},{"m":"45","h":36,"p":0},{"m":"45","h":48,"p":7.1},{"m":"45","h":54,"p":0},{"m":"45","h":264,"p":0},{"m":"45","h":270,"p":7.4},{"m":"45","h":276,"p":0},{"m":"45","h":360,"p":0},
{"m":"13","h":6,"p":0},{"m":"13","h":36,"p":0},{"m":"13","h":42,"p":3.4},{"m":"13","h":48,"p":0},{"m":"13","h":288,"p":0},{"m":"13","h":294,"p":3.2},{"m":"13","h":300,"p":0},{"m":"13","h":360,"p":0},
{"m":"47","h":6,"p":0},{"m":"47","h":24,"p":0},{"m":"47","h":30,"p":2.5},{"m":"47","h":36,"p":0.5},{"m":"47","h":42,"p":0},{"m":"47","h":204,"p":0},{"m":"47","h":210,"p":9.4},{"m":"47","h":216,"p":0.5},{"m":"47","h":222,"p":0},{"m":"47","h":360,"p":0},
{"m":"16","h":6,"p":0},{"m":"16","h":30,"p":0},{"m":"16","h":37,"p":2.4},{"m":"16","h":42,"p":0},{"m":"16","h":204,"p":0},{"m":"16","h":210,"p":5},{"m":"16","h":216,"p":12.5},{"m":"16","h":221,"p":14.1},{"m":"16","h":228,"p":3},{"m":"16","h":234,"p":0},{"m":"16","h":276,"p":0},{"m":"16","h":282,"p":7},{"m":"16","h":288,"p":0},{"m":"16","h":360,"p":0},
{"m":"42","h":6,"p":0},{"m":"42","h":42,"p":0},{"m":"42","h":48,"p":2.6},{"m":"42","h":54,"p":0},{"m":"42","h":250,"p":0},{"m":"42","h":257,"p":10},{"m":"42","h":264,"p":0},{"m":"42","h":360,"p":0},
{"m":"49","h":6,"p":0},{"m":"49","h":120,"p":0},{"m":"49","h":126,"p":1.1},{"m":"49","h":132,"p":0},{"m":"49","h":360,"p":0},
{"m":"46","h":6,"p":0},{"m":"46","h":144,"p":0},{"m":"46","h":155,"p":2.2},{"m":"46","h":162,"p":2.9},{"m":"46","h":168,"p":10.5},{"m":"46","h":174,"p":0.3},{"m":"46","h":180,"p":0},{"m":"46","h":306,"p":0},{"m":"46","h":311,"p":8.1},{"m":"46","h":318,"p":0.5},{"m":"46","h":324,"p":0},{"m":"46","h":360,"p":0},
{"m":"11","h":6,"p":0},{"m":"11","h":162,"p":0},{"m":"11","h":168,"p":9.9},{"m":"11","h":174,"p":5.5},{"m":"11","h":180,"p":0.2},{"m":"11","h":186,"p":0},{"m":"11","h":360,"p":0},
{"m":"50","h":6,"p":0},{"m":"50","h":180,"p":0},{"m":"50","h":186,"p":2},{"m":"50","h":192,"p":19.1},{"m":"50","h":198,"p":1},{"m":"50","h":204,"p":0},{"m":"50","h":348,"p":0},{"m":"50","h":354,"p":0.5},{"m":"50","h":360,"p":3.2},
{"m":"33","h":6,"p":0},{"m":"33","h":186,"p":0},{"m":"33","h":192,"p":18},{"m":"33","h":198,"p":3},{"m":"33","h":204,"p":0},{"m":"33","h":324,"p":0},{"m":"33","h":330,"p":7.9},{"m":"33","h":336,"p":0},{"m":"33","h":360,"p":0},
{"m":"21","h":6,"p":0},{"m":"21","h":186,"p":0},{"m":"21","h":192,"p":17},{"m":"21","h":198,"p":2},{"m":"21","h":204,"p":0},{"m":"21","h":360,"p":0},
{"m":"10","h":6,"p":0},{"m":"10","h":186,"p":0},{"m":"10","h":192,"p":13.6},{"m":"10","h":198,"p":4},{"m":"10","h":204,"p":0},{"m":"10","h":360,"p":0},
{"m":"38","h":6,"p":0},{"m":"38","h":180,"p":0},{"m":"38","h":186,"p":5.6},{"m":"38","h":192,"p":9.4},{"m":"38","h":198,"p":2},{"m":"38","h":204,"p":0},{"m":"38","h":354,"p":0},{"m":"38","h":360,"p":5.6},
{"m":"24","h":6,"p":0},{"m":"24","h":186,"p":0},{"m":"24","h":192,"p":7.6},{"m":"24","h":198,"p":1.5},{"m":"24","h":204,"p":0},{"m":"24","h":360,"p":0},
{"m":"48","h":6,"p":0},{"m":"48","h":216,"p":0},{"m":"48","h":221,"p":6.1},{"m":"48","h":226,"p":0},{"m":"48","h":330,"p":0},{"m":"48","h":336,"p":7.5},{"m":"48","h":342,"p":0},{"m":"48","h":360,"p":0},
{"m":"26","h":6,"p":0},{"m":"26","h":222,"p":0},{"m":"26","h":227,"p":9.4},{"m":"26","h":232,"p":2},{"m":"26","h":238,"p":0},{"m":"26","h":360,"p":0},
{"m":"30","h":6,"p":0},{"m":"30","h":240,"p":0},{"m":"30","h":245,"p":10.5},{"m":"30","h":250,"p":3},{"m":"30","h":256,"p":0},{"m":"30","h":360,"p":0},
{"m":"01","h":6,"p":0},{"m":"01","h":246,"p":0},{"m":"01","h":252,"p":8},{"m":"01","h":258,"p":4.5},{"m":"01","h":264,"p":0},{"m":"01","h":360,"p":0},
{"m":"31","h":6,"p":0},{"m":"31","h":282,"p":0},{"m":"31","h":288,"p":9.1},{"m":"31","h":294,"p":1},{"m":"31","h":300,"p":0},{"m":"31","h":360,"p":0},
{"m":"39","h":6,"p":0},{"m":"39","h":286,"p":0},{"m":"39","h":293,"p":17.2},{"m":"39","h":300,"p":5.5},{"m":"39","h":306,"p":0},{"m":"39","h":360,"p":0},
{"m":"29","h":6,"p":0},{"m":"29","h":304,"p":0},{"m":"29","h":311,"p":17.6},{"m":"29","h":318,"p":5},{"m":"29","h":324,"p":0},{"m":"29","h":360,"p":0},
{"m":"40","h":6,"p":0},{"m":"40","h":318,"p":0},{"m":"40","h":324,"p":6.5},{"m":"40","h":330,"p":0},{"m":"40","h":360,"p":0},
{"m":"34","h":6,"p":0},{"m":"34","h":342,"p":0},{"m":"34","h":348,"p":2},{"m":"34","h":354,"p":14.8},{"m":"34","h":360,"p":25.5},
{"m":"27","h":6,"p":0},{"m":"27","h":348,"p":0},{"m":"27","h":354,"p":3},{"m":"27","h":360,"p":10.5},
{"m":"12","h":6,"p":0},{"m":"12","h":350,"p":0},{"m":"12","h":360,"p":8},
{"m":"04","h":6,"p":0},{"m":"04","h":228,"p":0},{"m":"04","h":234,"p":3.5},{"m":"04","h":240,"p":0},{"m":"04","h":300,"p":0},{"m":"04","h":306,"p":2.5},{"m":"04","h":312,"p":0},{"m":"04","h":360,"p":0},
{"m":"20","h":6,"p":0},{"m":"20","h":204,"p":0},{"m":"20","h":210,"p":4.5},{"m":"20","h":216,"p":1},{"m":"20","h":222,"p":0},{"m":"20","h":276,"p":0},{"m":"20","h":282,"p":3},{"m":"20","h":288,"p":0},{"m":"20","h":360,"p":0},
{"m":"18","h":6,"p":0},{"m":"18","h":240,"p":0},{"m":"18","h":246,"p":2.5},{"m":"18","h":252,"p":0},{"m":"18","h":324,"p":0},{"m":"18","h":330,"p":4.5},{"m":"18","h":336,"p":0},{"m":"18","h":360,"p":0},
{"m":"23","h":6,"p":0},{"m":"23","h":246,"p":0},{"m":"23","h":252,"p":4},{"m":"23","h":258,"p":0},{"m":"23","h":360,"p":0},
{"m":"07","h":6,"p":0},{"m":"07","h":300,"p":0},{"m":"07","h":306,"p":3.5},{"m":"07","h":312,"p":0},{"m":"07","h":360,"p":0},
{"m":"43","h":6,"p":0},{"m":"43","h":270,"p":0},{"m":"43","h":276,"p":4},{"m":"43","h":282,"p":0},{"m":"43","h":360,"p":0},
{"m":"35","h":6,"p":0},{"m":"35","h":252,"p":0},{"m":"35","h":258,"p":5},{"m":"35","h":264,"p":1},{"m":"35","h":270,"p":0},{"m":"35","h":360,"p":0},
{"m":"06","h":6,"p":0},{"m":"06","h":234,"p":0},{"m":"06","h":240,"p":3},{"m":"06","h":246,"p":0},{"m":"06","h":360,"p":0},
{"m":"09","h":6,"p":0},{"m":"09","h":312,"p":0},{"m":"09","h":318,"p":4},{"m":"09","h":324,"p":0},{"m":"09","h":360,"p":0},
{"m":"44","h":6,"p":0},{"m":"44","h":186,"p":0},{"m":"44","h":192,"p":4.5},{"m":"44","h":198,"p":0},{"m":"44","h":360,"p":0},
{"m":"02","h":6,"p":0},{"m":"02","h":196,"p":0},{"m":"02","h":204,"p":4},{"m":"02","h":210,"p":0},{"m":"02","h":360,"p":0}
],
"ka": [
{"s":"M","h":0,"v":15.6},{"s":"M","h":6,"v":16},{"s":"M","h":12,"v":16.5},{"s":"M","h":18,"v":16.5},{"s":"M","h":24,"v":16.1},{"s":"M","h":30,"v":15.4},{"s":"M","h":36,"v":15.3},{"s":"M","h":42,"v":15.4},{"s":"M","h":48,"v":14},{"s":"M","h":54,"v":12.9},{"s":"M","h":60,"v":13.3},{"s":"M","h":66,"v":15},{"s":"M","h":72,"v":16.5},{"s":"M","h":84,"v":18.2},{"s":"M","h":96,"v":19.6},{"s":"M","h":108,"v":20.2},{"s":"M","h":120,"v":20.2},{"s":"M","h":132,"v":21},{"s":"M","h":144,"v":20.8},{"s":"M","h":156,"v":21.2},{"s":"M","h":168,"v":21.4},{"s":"M","h":180,"v":21.2},{"s":"M","h":186,"v":21},{"s":"M","h":192,"v":20.2},{"s":"M","h":198,"v":18},{"s":"M","h":204,"v":15},{"s":"M","h":210,"v":14.4},{"s":"M","h":216,"v":13.1},{"s":"M","h":222,"v":12.2},{"s":"M","h":228,"v":11.9},{"s":"M","h":240,"v":12.1},{"s":"M","h":252,"v":11.4},{"s":"M","h":264,"v":11.1},{"s":"M","h":270,"v":10.3},{"s":"M","h":282,"v":10.9},{"s":"M","h":294,"v":9.9},{"s":"M","h":306,"v":10.5},{"s":"M","h":318,"v":9.9},{"s":"M","h":330,"v":10.9},{"s":"M","h":342,"v":10.4},{"s":"M","h":354,"v":11.4},{"s":"M","h":360,"v":11.1},
{"s":"C","h":0,"v":15.6},{"s":"C","h":12,"v":16.4},{"s":"C","h":24,"v":16},{"s":"C","h":36,"v":15.3},{"s":"C","h":48,"v":14},{"s":"C","h":60,"v":13.2},{"s":"C","h":72,"v":16.4},{"s":"C","h":84,"v":18.4},{"s":"C","h":96,"v":19.8},{"s":"C","h":104,"v":20.3},{"s":"C","h":112,"v":20},{"s":"C","h":122,"v":21},{"s":"C","h":132,"v":23.5},{"s":"C","h":144,"v":24.8},{"s":"C","h":150,"v":25.1},{"s":"C","h":162,"v":25.5},{"s":"C","h":174,"v":25.8},{"s":"C","h":184,"v":24.6},{"s":"C","h":191,"v":21.5},{"s":"C","h":197,"v":17.6},{"s":"C","h":202,"v":14.1},{"s":"C","h":208,"v":13.9},{"s":"C","h":213,"v":13.4},{"s":"C","h":225,"v":9.6},{"s":"C","h":236,"v":9.6},{"s":"C","h":247,"v":10},{"s":"C","h":252,"v":9.8},{"s":"C","h":258,"v":9.4},{"s":"C","h":268,"v":7.5},{"s":"C","h":279,"v":5.8},{"s":"C","h":290,"v":6.9},{"s":"C","h":299,"v":6.2},{"s":"C","h":308,"v":6.9},{"s":"C","h":318,"v":4.4},{"s":"C","h":331,"v":7.9},{"s":"C","h":344,"v":7.5},{"s":"C","h":352,"v":6.8},{"s":"C","h":360,"v":5.9},
{"s":"E","h":0,"v":15.5},{"s":"E","h":6,"v":16},{"s":"E","h":12,"v":16.6},{"s":"E","h":18,"v":16.5},{"s":"E","h":24,"v":16.3},{"s":"E","h":30,"v":15.6},{"s":"E","h":36,"v":15.6},{"s":"E","h":42,"v":15.4},{"s":"E","h":48,"v":14},{"s":"E","h":54,"v":13},{"s":"E","h":60,"v":13.2},{"s":"E","h":66,"v":15},{"s":"E","h":72,"v":16.6},{"s":"E","h":84,"v":18},{"s":"E","h":96,"v":19.5},{"s":"E","h":100,"v":19},{"s":"E","h":104,"v":17.6},{"s":"E","h":108,"v":17.6},{"s":"E","h":112,"v":19.1},{"s":"E","h":125,"v":19.1},{"s":"E","h":131,"v":21.5},{"s":"E","h":136,"v":23.4},{"s":"E","h":150,"v":24.6},{"s":"E","h":161,"v":25.3},{"s":"E","h":167,"v":26.2},{"s":"E","h":173,"v":23.6},{"s":"E","h":180,"v":25.1},{"s":"E","h":184,"v":24.4},{"s":"E","h":187,"v":21.9},{"s":"E","h":191,"v":17.2},{"s":"E","h":197,"v":13.9},{"s":"E","h":204,"v":11.1},{"s":"E","h":210,"v":9.6},{"s":"E","h":217,"v":7.6},{"s":"E","h":223,"v":6.5},{"s":"E","h":229,"v":5.4},{"s":"E","h":234,"v":5.6},{"s":"E","h":240,"v":5.1}
],
"kb": [
{"s":"M","h":0,"v":-11.5},{"s":"M","h":12,"v":-12.3},{"s":"M","h":18,"v":-11.8},{"s":"M","h":24,"v":-11.6},{"s":"M","h":36,"v":-12.3},{"s":"M","h":48,"v":-12.1},{"s":"M","h":60,"v":-11.8},{"s":"M","h":66,"v":-11.4},{"s":"M","h":78,"v":-11.6},{"s":"M","h":90,"v":-10.6},{"s":"M","h":102,"v":-10.6},{"s":"M","h":114,"v":-10.4},{"s":"M","h":126,"v":-10.1},{"s":"M","h":138,"v":-9.5},{"s":"M","h":150,"v":-9.2},{"s":"M","h":162,"v":-8.9},{"s":"M","h":174,"v":-9.5},{"s":"M","h":186,"v":-9.9},{"s":"M","h":198,"v":-11.1},{"s":"M","h":206,"v":-11.8},{"s":"M","h":216,"v":-12.5},{"s":"M","h":228,"v":-13.1},{"s":"M","h":240,"v":-13.5},{"s":"M","h":246,"v":-13.6},{"s":"M","h":258,"v":-12.6},{"s":"M","h":270,"v":-12.8},{"s":"M","h":282,"v":-13},{"s":"M","h":294,"v":-13.2},{"s":"M","h":300,"v":-12.6},{"s":"M","h":318,"v":-12.8},{"s":"M","h":330,"v":-11.9},{"s":"M","h":342,"v":-12.3},{"s":"M","h":360,"v":-12.4},
{"s":"C","h":0,"v":-11.4},{"s":"C","h":12,"v":-12.1},{"s":"C","h":24,"v":-11.6},{"s":"C","h":36,"v":-12.2},{"s":"C","h":48,"v":-12},{"s":"C","h":60,"v":-11.7},{"s":"C","h":72,"v":-11.4},{"s":"C","h":84,"v":-10.7},{"s":"C","h":96,"v":-10.4},{"s":"C","h":108,"v":-10.2},{"s":"C","h":120,"v":-9.8},{"s":"C","h":132,"v":-9.4},{"s":"C","h":144,"v":-9},{"s":"C","h":156,"v":-8.8},{"s":"C","h":168,"v":-8.8},{"s":"C","h":180,"v":-9.2},{"s":"C","h":192,"v":-10.4},{"s":"C","h":204,"v":-11.6},{"s":"C","h":216,"v":-12.8},{"s":"C","h":228,"v":-13.6},{"s":"C","h":234,"v":-14.2},{"s":"C","h":243,"v":-14.9},{"s":"C","h":254,"v":-14},{"s":"C","h":266,"v":-13.9},{"s":"C","h":276,"v":-13},{"s":"C","h":285,"v":-9.9},{"s":"C","h":290,"v":-11.1},{"s":"C","h":296,"v":-11.4},{"s":"C","h":304,"v":-10},{"s":"C","h":313,"v":-8.9},{"s":"C","h":323,"v":-8.8},{"s":"C","h":333,"v":-7.5},{"s":"C","h":341,"v":-6.6},{"s":"C","h":347,"v":-6.8},{"s":"C","h":360,"v":-8.5},
{"s":"E","h":0,"v":-11.5},{"s":"E","h":12,"v":-12.2},{"s":"E","h":19,"v":-11.4},{"s":"E","h":24,"v":-11.5},{"s":"E","h":36,"v":-12.2},{"s":"E","h":48,"v":-12},{"s":"E","h":60,"v":-11.8},{"s":"E","h":72,"v":-11.5},{"s":"E","h":84,"v":-10.8},{"s":"E","h":92,"v":-10.2},{"s":"E","h":104,"v":-10.4},{"s":"E","h":116,"v":-10.2},{"s":"E","h":127,"v":-9.5},{"s":"E","h":140,"v":-8.9},{"s":"E","h":163,"v":-8.9},{"s":"E","h":174,"v":-9.5},{"s":"E","h":187,"v":-10.4},{"s":"E","h":197,"v":-11.4},{"s":"E","h":206,"v":-12.5},{"s":"E","h":213,"v":-13.7},{"s":"E","h":221,"v":-15.6},{"s":"E","h":229,"v":-16.6},{"s":"E","h":234,"v":-17.1},{"s":"E","h":240,"v":-18.7}
],
"kp": [
{"s":"M","h":6,"v":0},{"s":"M","h":18,"v":0},{"s":"M","h":24,"v":0.3},{"s":"M","h":36,"v":0.4},{"s":"M","h":48,"v":0.5},{"s":"M","h":60,"v":0.1},{"s":"M","h":66,"v":0},{"s":"M","h":150,"v":0},{"s":"M","h":162,"v":0.3},{"s":"M","h":168,"v":0.4},{"s":"M","h":180,"v":0.2},{"s":"M","h":186,"v":1},{"s":"M","h":191,"v":2},{"s":"M","h":198,"v":1.4},{"s":"M","h":204,"v":0.8},{"s":"M","h":215,"v":1.3},{"s":"M","h":222,"v":1.1},{"s":"M","h":234,"v":0.5},{"s":"M","h":252,"v":0.6},{"s":"M","h":270,"v":0.8},{"s":"M","h":288,"v":1.1},{"s":"M","h":300,"v":0.9},{"s":"M","h":312,"v":0.8},{"s":"M","h":330,"v":1},{"s":"M","h":342,"v":1.3},{"s":"M","h":348,"v":0.8},{"s":"M","h":354,"v":1},{"s":"M","h":360,"v":1.4},
{"s":"C","h":6,"v":0},{"s":"C","h":186,"v":0},{"s":"C","h":192,"v":0.3},{"s":"C","h":198,"v":1.5},{"s":"C","h":202,"v":3.6},{"s":"C","h":208,"v":2.7},{"s":"C","h":214,"v":1},{"s":"C","h":222,"v":2.2},{"s":"C","h":228,"v":7.7},{"s":"C","h":232,"v":2.7},{"s":"C","h":236,"v":0},{"s":"C","h":246,"v":0.5},{"s":"C","h":252,"v":1.5},{"s":"C","h":257,"v":4.6},{"s":"C","h":262,"v":3.4},{"s":"C","h":268,"v":0.3},{"s":"C","h":360,"v":0},
{"s":"E","h":6,"v":0},{"s":"E","h":18,"v":0},{"s":"E","h":24,"v":0.2},{"s":"E","h":36,"v":0.3},{"s":"E","h":48,"v":0.6},{"s":"E","h":56,"v":0},{"s":"E","h":186,"v":0},{"s":"E","h":191,"v":0.5},{"s":"E","h":198,"v":0.8},{"s":"E","h":203,"v":7.2},{"s":"E","h":210,"v":2.7},{"s":"E","h":213,"v":1.1},{"s":"E","h":217,"v":0},{"s":"E","h":240,"v":0}
]
},
"resolve": {"scale": {"x": "independent", "y": "independent"}},
"layer": [
{
 "layer": [
  {"data": {"values": [{}]}, "mark": {"type": "rule", "stroke": "#8a8a8a", "strokeWidth": 3}, "encoding": {"y": {"datum": 0, "type": "quantitative"}}},
  {"data": {"name": "ens"}, "mark": {"type": "line", "strokeWidth": 1, "point": {"shape": "cross", "size": 10, "filled": true}},
   "encoding": {
    "x": {"field": "h", "type": "quantitative", "scale": {"domain": [0, 360], "nice": false, "zero": false},
      "axis": {"values": [0,24,48,72,96,120,144,168,192,216,240,264,288,312,336,360], "tickCount": 40, "labelExpr": "(11+datum.value/24)+'/06'", "labelAngle": 270, "labelAlign": "right", "labelBaseline": "middle", "labelOffset": 7, "labelPadding": 2, "ticks": false, "tickSize": 0, "domain": true, "domainColor": "black", "domainWidth": 1, "grid": true, "gridColor": "#c0c0c0", "gridWidth": 1, "title": null, "labelFlush": false, "labelOverlap": false}},
    "y": {"field": "a", "type": "quantitative", "scale": {"domain": [-52.79, 32.93], "nice": false, "zero": false},
      "axis": {"orient": "left", "values": [-45,-40,-35,-30,-25,-20,-15,-10,-5,0,5,10,15,20,25,30], "tickCount": 40, "domain": false, "ticks": false, "tickSize": 0, "labelPadding": 19, "grid": true, "gridColor": "#c0c0c0", "gridWidth": {"condition": {"test": "datum.value % 10 === 0", "value": 2}, "value": 1}, "title": "(°C)", "titleAngle": 0, "titleX": -30, "titleY": 607, "titleAlign": "left", "titleBaseline": "middle", "labelFlush": false, "labelOverlap": false, "labelBound": false}},
    "color": {"field": "m", "type": "nominal", "legend": null, "scale": {"domain": ["01","02","03","04","05","06","07","08","09","10","11","12","13","14","15","16","17","18","19","20","21","22","23","24","25","26","27","28","29","30","31","32","33","34","35","36","37","38","39","40","41","42","43","44","45","46","47","48","49","50"], "range": ["#cc9aa8","#d0a0e0","#e07c88","#a05030","#a0d0f0","#8058b0","#c0c020","#d8b050","#70b060","#20c070","#c04878","#b818b0","#e03060","#a0b0e0","#c8b080","#2060c0","#c8c060","#b0e858","#68a0d8","#60e0f0","#c04020","#a0d0a0","#c050e0","#207060","#b01020","#c09878","#903078","#603080","#904048","#205090","#50b888","#30e0e0","#6030d0","#a09050","#90d888","#c0e888","#705028","#e06058","#403080","#50d040","#b0d8c8","#a02040","#e090d0","#7098b0","#a030c0","#20e090","#e0e0a0","#409090","#508838","#7050f0"]}}
   }},
  {"data": {"name": "ens"}, "mark": {"type": "line", "strokeWidth": 1, "point": {"shape": "cross", "size": 10, "filled": true}},
   "encoding": {"x": {"field": "h", "type": "quantitative"}, "y": {"field": "b", "type": "quantitative"}, "color": {"field": "m", "type": "nominal", "legend": null}}},
  {"data": {"name": "ka"}, "transform": [{"filter": "datum.s === 'C'"}], "mark": {"type": "line", "strokeWidth": 3},
   "encoding": {"x": {"field": "h", "type": "quantitative"}, "y": {"field": "v", "type": "quantitative"}, "stroke": {"field": "s", "type": "nominal", "scale": {"domain": ["M", "C"], "range": ["#ff0000", "#0000ff"]}}}},
  {"data": {"name": "kb"}, "transform": [{"filter": "datum.s === 'C'"}], "mark": {"type": "line", "strokeWidth": 3},
   "encoding": {"x": {"field": "h", "type": "quantitative"}, "y": {"field": "v", "type": "quantitative"}, "stroke": {"field": "s", "type": "nominal"}}},
  {"data": {"name": "ka"}, "transform": [{"filter": "datum.s === 'E'"}], "mark": {"type": "line", "strokeWidth": 3.5, "stroke": "black"},
   "encoding": {"x": {"field": "h", "type": "quantitative"}, "y": {"field": "v", "type": "quantitative"},
    "strokeDash": {"field": "s", "type": "nominal", "scale": {"domain": ["E"], "range": [[1, 0]]},
      "legend": {"orient": "none", "legendX": 172, "legendY": 631, "title": null, "symbolType": "stroke", "symbolSize": 900, "symbolStrokeWidth": 5, "symbolStrokeColor": "black", "labelOffset": 8, "labelFontSize": 10, "labelLimit": 400, "labelExpr": "'Run CEP/ECMWF'"}}}},
  {"data": {"name": "kb"}, "transform": [{"filter": "datum.s === 'E'"}], "mark": {"type": "line", "strokeWidth": 3.5, "stroke": "black"},
   "encoding": {"x": {"field": "h", "type": "quantitative"}, "y": {"field": "v", "type": "quantitative"}, "strokeDash": {"field": "s", "type": "nominal"}}},
  {"data": {"name": "ka"}, "transform": [{"filter": "datum.s === 'M'"}], "mark": {"type": "line", "strokeWidth": 5},
   "encoding": {"x": {"field": "h", "type": "quantitative"}, "y": {"field": "v", "type": "quantitative"},
    "stroke": {"field": "s", "type": "nominal",
      "legend": {"orient": "none", "legendX": -18, "legendY": 620, "direction": "horizontal", "title": null, "symbolType": "stroke", "symbolSize": 900, "symbolStrokeWidth": 5, "labelOffset": 8, "labelFontSize": 10, "columnPadding": 8, "labelLimit": 400, "labelExpr": "datum.value === 'M' ? 'Moyenne des scénarios' : 'Run de contrôle'"}}}},
  {"data": {"name": "kb"}, "transform": [{"filter": "datum.s === 'M'"}], "mark": {"type": "line", "strokeWidth": 5},
   "encoding": {"x": {"field": "h", "type": "quantitative"}, "y": {"field": "v", "type": "quantitative"}, "stroke": {"field": "s", "type": "nominal"}}},
  {"data": {"values": [{}]}, "mark": {"type": "text", "align": "left", "baseline": "middle", "fontSize": 10, "font": "DejaVu Sans Mono", "color": "black"},
   "encoding": {"x": {"datum": 5.6, "type": "quantitative"}, "y": {"datum": 20.05, "type": "quantitative"}, "text": {"value": "Temp. 850hPa"}}},
  {"data": {"values": [{}]}, "mark": {"type": "text", "align": "left", "baseline": "middle", "fontSize": 10, "font": "DejaVu Sans Mono", "color": "black"},
   "encoding": {"x": {"datum": 5.6, "type": "quantitative"}, "y": {"datum": -9.36, "type": "quantitative"}, "text": {"value": "Temp. 500hPa"}}},
  {"data": {"values": [{}]}, "mark": {"type": "text", "align": "left", "baseline": "middle", "fontSize": 10, "font": "DejaVu Sans Mono", "color": "black"},
   "encoding": {"x": {"datum": 5.6, "type": "quantitative"}, "y": {"datum": -35.2, "type": "quantitative"}, "text": {"value": "Précipitations"}}}
 ]
},
{
 "layer": [
  {"data": {"name": "pr"}, "mark": {"type": "line", "strokeWidth": 1, "point": {"shape": "cross", "size": 10, "filled": true}},
   "encoding": {
    "x": {"field": "h", "type": "quantitative", "scale": {"domain": [0, 360], "nice": false, "zero": false}, "axis": null},
    "y": {"field": "p", "type": "quantitative", "scale": {"domain": [-7.79, 77.93], "nice": false, "zero": false},
      "axis": {"orient": "right", "values": [0,5,10,15,20,25,30,35,40,45,50,55,60,65,70,75], "tickCount": 40, "domain": false, "ticks": false, "tickSize": 0, "labelPadding": 19, "grid": false, "title": "(mm)", "titleAngle": 0, "titleX": 19, "titleY": 607, "titleAlign": "left", "titleBaseline": "middle", "labelFlush": false, "labelOverlap": false, "labelBound": false}},
    "color": {"field": "m", "type": "nominal", "legend": null}
   }},
  {"data": {"name": "kp"}, "transform": [{"filter": "datum.s === 'C'"}], "mark": {"type": "line", "strokeWidth": 3},
   "encoding": {"x": {"field": "h", "type": "quantitative"}, "y": {"field": "v", "type": "quantitative"}, "stroke": {"field": "s", "type": "nominal"}}},
  {"data": {"name": "kp"}, "transform": [{"filter": "datum.s === 'E'"}], "mark": {"type": "line", "strokeWidth": 3.5, "stroke": "black"},
   "encoding": {"x": {"field": "h", "type": "quantitative"}, "y": {"field": "v", "type": "quantitative"}, "strokeDash": {"field": "s", "type": "nominal"}}},
  {"data": {"name": "kp"}, "transform": [{"filter": "datum.s === 'M'"}], "mark": {"type": "line", "strokeWidth": 5},
   "encoding": {"x": {"field": "h", "type": "quantitative"}, "y": {"field": "v", "type": "quantitative"}, "stroke": {"field": "s", "type": "nominal"}}}
 ]
},
{
 "data": {"name": "lg"},
 "layer": [
  {"mark": {"type": "rect", "strokeWidth": 0},
   "encoding": {
    "x": {"field": "t", "type": "ordinal", "scale": {"type": "band", "range": [380, 653.3], "paddingInner": 0, "paddingOuter": 0}, "axis": null},
    "y": {"datum": "r1", "type": "ordinal", "scale": {"type": "band", "domain": ["n1", "r1", "r2", "n2"], "range": [636.5, 664.5], "paddingInner": 0, "paddingOuter": 0}, "axis": null},
    "color": {"field": "t", "type": "nominal", "legend": null}}},
  {"mark": {"type": "rect", "strokeWidth": 0},
   "encoding": {"x": {"field": "t", "type": "ordinal"}, "y": {"datum": "r2", "type": "ordinal"}, "color": {"field": "u", "type": "nominal", "legend": null}}},
  {"mark": {"type": "text", "fontSize": 8.5, "fontWeight": "bold", "font": "DejaVu Sans Mono", "color": "black", "baseline": "middle"},
   "encoding": {"x": {"field": "t", "type": "ordinal"}, "y": {"datum": "n1", "type": "ordinal"}, "text": {"field": "t"}}},
  {"mark": {"type": "text", "fontSize": 8.5, "fontWeight": "bold", "font": "DejaVu Sans Mono", "color": "black", "baseline": "middle"},
   "encoding": {"x": {"field": "t", "type": "ordinal"}, "y": {"datum": "n2", "type": "ordinal"}, "text": {"field": "u"}}},
  {"data": {"values": [{}]}, "mark": {"type": "text", "fontSize": 10, "font": "DejaVu Sans Mono", "color": "black", "align": "right", "baseline": "middle", "dx": -7, "dy": 2},
   "encoding": {"x": {"datum": "01", "type": "ordinal", "bandPosition": 0}, "y": {"datum": "r2", "type": "ordinal", "bandPosition": 0}, "text": {"value": "50 Perts."}}}
 ]
},
{
 "data": {"values": [{"k": "Températures 850hPa et 500hPa (°C) , précipitations (mm)", "k2": "Copyright 2022 Meteociel.fr - ECMWF"}]},
 "mark": {"type": "point", "opacity": 0},
 "encoding": {
  "shape": {"field": "k", "type": "nominal",
    "legend": {"orient": "none", "legendX": -25, "legendY": 667, "title": "Diagramme ensembles ECMWF/CEP 0.4° sur 360h pour Bordeaux", "titleFontSize": 11.5, "titleFontWeight": "bold", "titleLimit": 1000, "titlePadding": 3, "labelFontSize": 10, "labelLimit": 1000, "labelOffset": -10, "symbolSize": 1, "symbolOpacity": 0, "symbolStrokeWidth": 0, "strokeColor": "black", "padding": 5}},
  "size": {"field": "k2", "type": "ordinal", "scale": {"range": [1, 1]},
    "legend": {"orient": "none", "legendX": 400, "legendY": 669, "title": "Ensemble ECMWF/CEP du 11/06/2022 - 00Z", "titleFontSize": 10, "titleFontWeight": "normal", "titleLimit": 1000, "titlePadding": 9, "labelFontSize": 11.5, "labelFontWeight": "bold", "labelLimit": 1000, "labelOffset": -11, "symbolOpacity": 0, "symbolStrokeWidth": 0}}
 }
}
]
}
